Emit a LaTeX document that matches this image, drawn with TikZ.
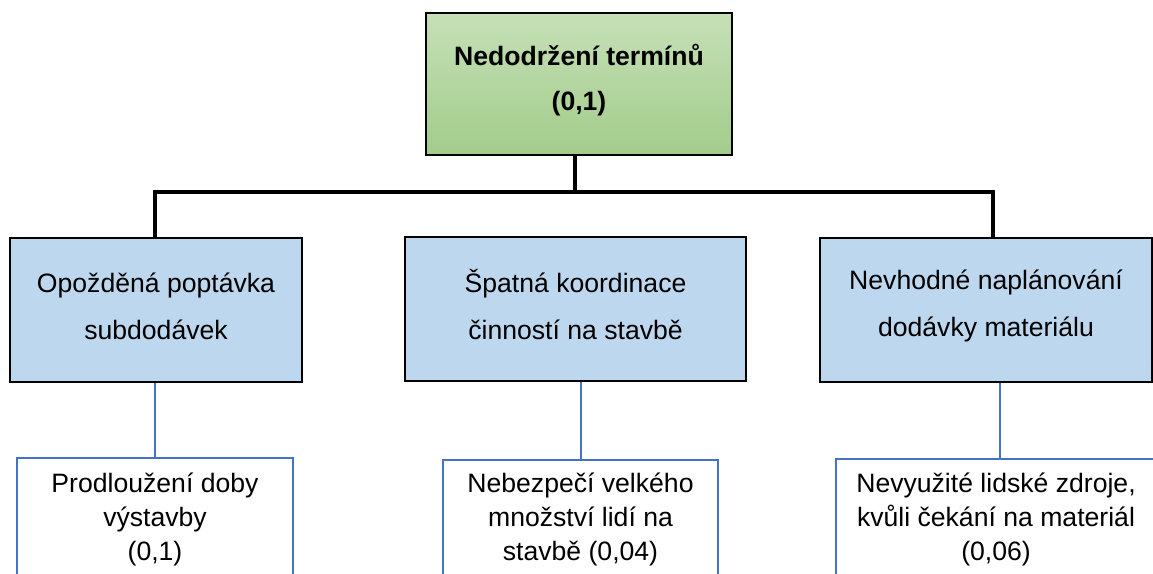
\documentclass[tikz,border=0pt]{standalone}
\usepackage{fontspec}
\setmainfont{Liberation Sans}
\begin{document}
\begin{tikzpicture}[x=1pt,y=-1pt,
  goalbox/.style={draw=black, line width=2.5pt, top color=goalTop, bottom color=goalBottom,
    minimum width=306pt, minimum height=142pt, inner sep=0pt},
  causebox/.style={draw=black, line width=2.5pt, fill=causeFill, minimum height=144pt, inner sep=0pt},
  effectbox/.style={draw=effectLine, line width=2pt, fill=white, minimum height=160pt, inner sep=0pt, anchor=north},
  txt/.style={font=\fontsize{26.6}{34}\selectfont, align=center, inner sep=0pt},
  trunk/.style={line width=3.2pt, line cap=rect},
  twig/.style={draw=effectLine, line width=2pt}]
\definecolor{goalTop}{HTML}{C6E0B6}
\definecolor{goalBottom}{HTML}{A2CC8B}
\definecolor{causeFill}{HTML}{BDD7EE}
\definecolor{effectLine}{HTML}{4472C4}
\useasboundingbox (0,0) rectangle (1153,573);
\clip (0,0) rectangle (1153,573);

% main goal
\node[goalbox] (goal) at (579,84) {};
\node[txt, font=\fontsize{26.6}{45}\selectfont\bfseries] (goaltxt) at (579,80)
  {Nedodržení termínů\\(0,1)};

% causes
\node[causebox, minimum width=292pt] (c1) at (156,310) {};
\node[causebox, minimum width=341pt] (c2) at (575.5,309) {};
\node[causebox, minimum width=332pt] (c3) at (986,310) {};
\node[txt, font=\fontsize{26.6}{47}\selectfont] (c1txt) at (156,306.5) {Opožděná poptávka\\subdodávek};
\node[txt, font=\fontsize{26.6}{47}\selectfont] (c2txt) at (575.5,304) {Špatná koordinace\\činností na stavbě};
\node[txt, font=\fontsize{26.6}{47}\selectfont] (c3txt) at (986,306) {Nevhodné naplánování\\dodávky materiálu};

% tree connectors
\coordinate (bus) at (575,192);
\draw[trunk] (bus |- goal.south) -- (bus);
\draw[trunk] (c1.north -| 155,0) |- (bus) -| (c3.north -| 993,0);

% effects
\node[effectbox, minimum width=276pt] (e1) at (155,457) {};
\node[effectbox, minimum width=275pt] (e2) at (580.5,459) {};
\node[effectbox, minimum width=340pt] (e3) at (1006,458) {};
\node[txt, anchor=north] (e1txt) at (155,473) {Prodloužení doby\\výstavby\\(0,1)};
\node[txt, anchor=north] (e2txt) at (580.5,473) {Nebezpečí velkého\\množství lidí na\\stavbě (0,04)};
\node[txt, anchor=north] (e3txt) at (996,473) {Nevyužité lidské zdroje,\\kvůli čekání na materiál\\(0,06)};

\draw[twig] (c1.south -| e1.north) -- (e1.north);
\draw[twig] (c2.south -| e2.north) -- (e2.north);
\draw[twig] (c3.south -| 1000,0) -- (e3.north -| 1000,0);
\end{tikzpicture}
\end{document}
